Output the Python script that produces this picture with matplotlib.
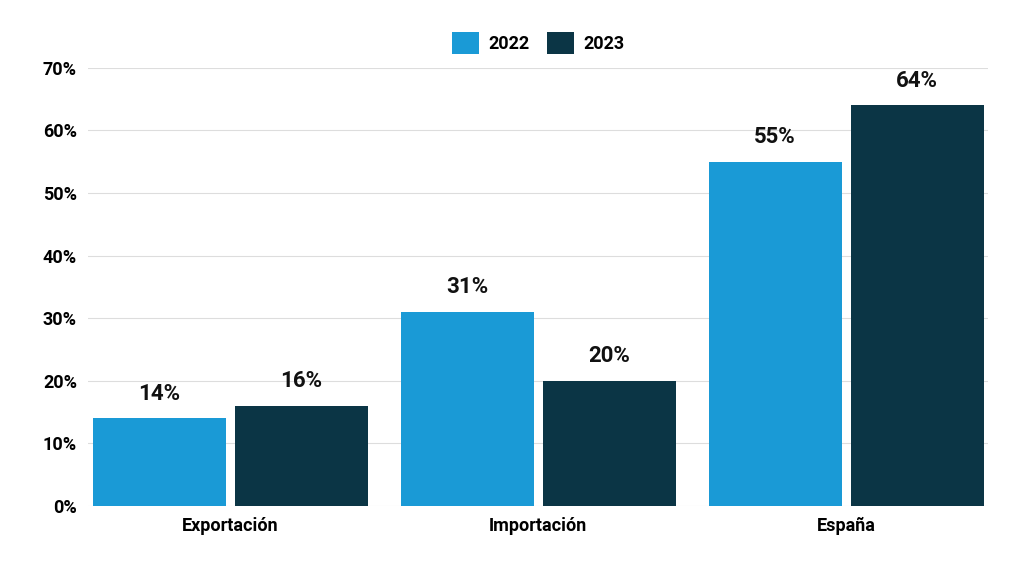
import matplotlib
matplotlib.use("Agg")
import matplotlib.pyplot as plt
import numpy as np

categories = ["Exportación", "Importación", "España"]
years = ["2022", "2023"]
values_2022 = [14, 31, 55]
values_2023 = [16, 20, 64]
colors = ["#1a9ad6", "#0b3545"]

plt.rcParams['font.family'] = ['Roboto', 'DejaVu Sans']
plt.rcParams['font.weight'] = 'bold'

fig = plt.figure(figsize=(10.24, 5.75), dpi=100)
ax = fig.add_axes([0.086, 0.12, 0.879, 0.762])

x = np.arange(len(categories))
w = 0.432
off = 0.2305
for vals, dx, c, lab in [(values_2022, -off, colors[0], years[0]), (values_2023, off, colors[1], years[1])]:
    bars = ax.bar(x + dx, vals, w, color=c, label=lab, zorder=3)
    for b, v in zip(bars, vals):
        ax.text(b.get_x() + b.get_width() / 2, v + 2.2, f"{v}%", ha="center", va="bottom",
                fontsize=16, fontweight="bold", color="#111111")

ax.set_xlim(-0.461, 2.461)
ax.set_ylim(0, 70)
ax.set_yticks(range(0, 71, 10))
ax.set_yticklabels([f"{t}%" for t in range(0, 71, 10)], fontsize=13, fontweight="bold")
ax.set_xticks(x)
ax.set_xticklabels(categories, fontsize=13, fontweight="bold")
ax.tick_params(length=0, pad=8)
ax.grid(axis="y", color="#dddddd", linewidth=0.8, zorder=0)
for s in ax.spines.values():
    s.set_visible(False)

leg = ax.legend(loc="lower center", bbox_to_anchor=(0.5, 0.995), ncol=2, frameon=False,
                handlelength=1.5, handleheight=1.5, columnspacing=1.0, handletextpad=0.5,
                prop={"size": 13, "weight": "bold"})

fig.savefig("out.png", dpi=100)
